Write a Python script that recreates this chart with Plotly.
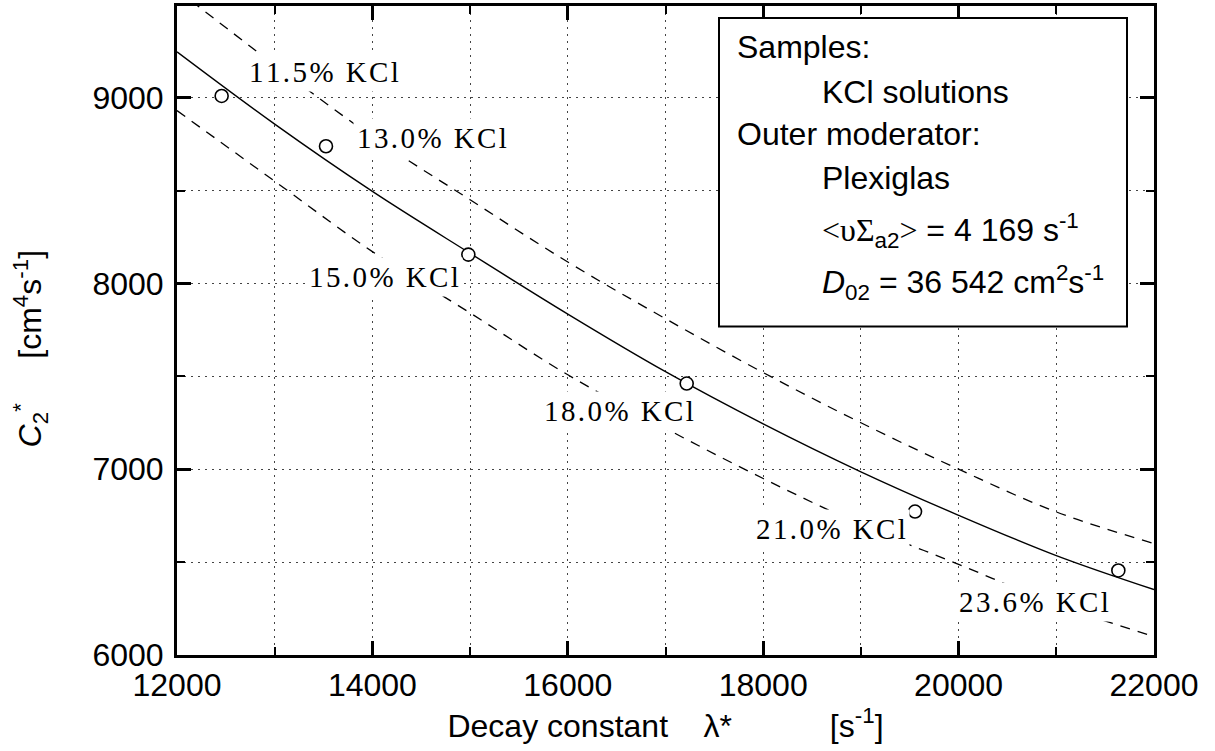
import plotly.graph_objects as go

# ---- data ----
conc_labels = ["11.5% KCl", "13.0% KCl", "15.0% KCl", "18.0% KCl", "21.0% KCl", "23.6% KCl"]
lambda_pts = [12457, 13525, 14982, 17217, 19554, 21635]
c2_pts = [9009, 8738, 8155, 7461, 6772, 6455]

curve_x = [12000, 13000, 14000, 15000, 16000, 17000, 18000, 19000, 20000, 21000, 22000]
fit_c2 = [9246, 8857, 8495, 8162, 7835, 7525, 7244, 6986, 6752, 6535, 6352]
upper_c2 = [9580, 9176, 8790, 8450, 8115, 7810, 7520, 7250, 7000, 6770, 6600]
lower_c2 = [8930, 8550, 8171, 7841, 7508, 7220, 6950, 6701, 6488, 6273, 6100]

# label anchor positions (data units, left edge / middle)
label_x = [12696, 13801, 13310, 15715, 17885, 19963]
label_y = [9140, 8785, 8035, 7315, 6680, 6285]

SANS = "Liberation Sans, Arial, sans-serif"
SERIF = "Liberation Serif, Times New Roman, serif"

fig = go.Figure()
fig.add_trace(go.Scatter(x=curve_x, y=upper_c2, mode="lines", line_shape="spline",
                         line=dict(color="black", width=1.3, dash="10px,8px"), showlegend=False))
fig.add_trace(go.Scatter(x=curve_x, y=lower_c2, mode="lines", line_shape="spline",
                         line=dict(color="black", width=1.3, dash="10px,8px"), showlegend=False))
fig.add_trace(go.Scatter(x=curve_x, y=fit_c2, mode="lines", line_shape="spline",
                         line=dict(color="black", width=1.4), showlegend=False))
fig.add_trace(go.Scatter(x=lambda_pts, y=c2_pts, mode="markers",
                         marker=dict(symbol="circle", size=13, color="white",
                                     line=dict(color="black", width=1.6)),
                         showlegend=False))

hs = "\u200a"
for txt, lx, ly in zip(conc_labels, label_x, label_y):
    spaced = hs.join(list(txt))
    fig.add_annotation(x=lx, y=ly, xref="x", yref="y", text=spaced, showarrow=False,
                       xanchor="left", yanchor="middle", bgcolor="white", borderpad=3,
                       font=dict(family=SERIF, size=29, color="black"))

# legend box
def px_x(p):
    return (p - 177) / 977.0

def px_y(p):
    return (655 - p) / 652.0

fig.add_shape(type="rect", xref="paper", yref="paper",
              x0=px_x(719), x1=px_x(1127), y0=px_y(325), y1=px_y(15),
              line=dict(color="black", width=2), fillcolor="white", layer="above")

legend_lines = [
    ("Samples:", 735, 44),
    ("KCl solutions", 820, 89),
    ("Outer moderator:", 735, 132),
    ("Plexiglas", 820, 176),
    ('<span style="font-family:Liberation Serif">&lt;υΣ</span><sub>a2</sub>'
     '<span style="font-family:Liberation Serif">&gt;</span> = 4 169 s<sup>-1</sup>', 820, 229),
    ("<i>D</i><sub>02</sub> = 36 542 cm<sup>2</sup>s<sup>-1</sup>", 820, 281),
]
for txt, lx, ly in legend_lines:
    fig.add_annotation(x=px_x(lx), y=px_y(ly), xref="paper", yref="paper", text=txt,
                       showarrow=False, xanchor="left", yanchor="middle",
                       font=dict(family=SANS, size=32, color="black"))

# y-axis title
fig.add_annotation(x=px_x(30), y=px_y(347), xref="paper", yref="paper",
                   text="<i>C</i><sub>2</sub><sup>*</sup>\u00a0\u00a0\u00a0\u00a0\u00a0[cm<sup>4</sup>s<sup>-1</sup>]",
                   textangle=-90, showarrow=False, xanchor="center", yanchor="middle",
                   font=dict(family=SANS, size=32, color="black"))

fig.update_xaxes(range=[12000, 22000], dtick=2000, tick0=12000, tickformat="d",
                 showline=True, linecolor="black", linewidth=3, mirror="ticks",
                 ticks="inside", ticklen=14, tickwidth=3, tickcolor="black",
                 showgrid=True, zeroline=False,
                 gridcolor="#444", gridwidth=1.4, griddash="2px,5px",
                 minor=dict(dtick=1000, ticks="inside", ticklen=8, tickwidth=2, tickcolor="black",
                            showgrid=True, gridcolor="#444", gridwidth=1.4, griddash="2px,5px"),
                 tickfont=dict(family=SANS, size=32, color="black"),
                 title=dict(text="Decay constant\u00a0\u00a0\u00a0\u00a0λ*\u00a0\u00a0\u00a0\u00a0\u00a0\u00a0\u00a0\u00a0\u00a0\u00a0\u00a0[s<sup>-1</sup>]",
                            font=dict(family=SANS, size=32, color="black"), standoff=6))
fig.update_yaxes(range=[6000, 9493], dtick=1000, tick0=6000, tickformat="d",
                 showline=True, linecolor="black", linewidth=3, mirror="ticks",
                 ticks="inside", ticklen=14, tickwidth=3, tickcolor="black",
                 showgrid=True, zeroline=False, ticklabelstandoff=4,
                 gridcolor="#444", gridwidth=1.4, griddash="2px,5px",
                 minor=dict(dtick=500, ticks="inside", ticklen=8, tickwidth=2, tickcolor="black",
                            showgrid=True, gridcolor="#444", gridwidth=1.4, griddash="2px,5px"),
                 tickfont=dict(family=SANS, size=32, color="black"))

fig.update_layout(width=1215, height=751, margin=dict(l=177, r=61, t=3, b=96),
                  plot_bgcolor="white", paper_bgcolor="white", showlegend=False)

fig.write_html("out.html", config={"displayModeBar": False},
               post_script="document.body.style.margin='0';document.body.style.padding='0';")
